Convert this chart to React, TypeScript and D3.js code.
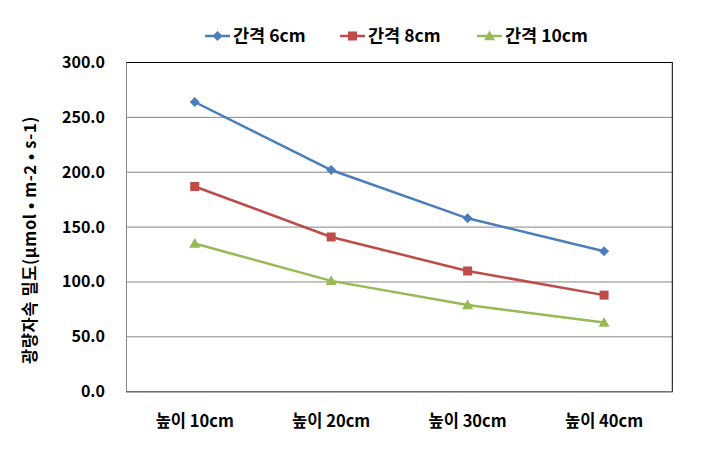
import React from "react";
import * as d3 from "d3";

const categories = ["높이 10cm", "높이 20cm", "높이 30cm", "높이 40cm"];
const seriesNames = ["간격 6cm", "간격 8cm", "간격 10cm"];
const values6 = [264, 202, 158, 128];
const values8 = [187, 141, 110, 88];
const values10 = [135, 101, 79, 63];
const yTicks = [0, 50, 100, 150, 200, 250, 300];
const colors = ["#4A7EBB", "#BE4B48", "#98B954"];
const markers = ["diamond", "square", "triangle"];

const W = 703;
const H = 451;
const m = { left: 126.5, right: 672.3, top: 62.5, bottom: 391.7 };
const FONT = "'Noto Sans CJK KR', 'Noto Sans', sans-serif";

function Marker({ type, x, y, color }: { type: string; x: number; y: number; color: string }) {
  if (type === "diamond") {
    const s = 5;
    return <path d={`M${x},${y - s}L${x + s},${y}L${x},${y + s}L${x - s},${y}Z`} fill={color} />;
  }
  if (type === "square") {
    const s = 4.5;
    return <rect x={x - s} y={y - s} width={2 * s} height={2 * s} fill={color} />;
  }
  const s = 5.5;
  return <path d={`M${x},${y - s}L${x + s},${y + s * 0.75}L${x - s},${y + s * 0.75}Z`} fill={color} />;
}

export default function App() {
  const series = [values6, values8, values10];
  const x = d3.scaleBand().domain(categories).range([m.left, m.right]);
  const y = d3.scaleLinear().domain([0, 300]).range([m.bottom, m.top]);
  const line = d3
    .line<number>()
    .x((_, i) => (x(categories[i]) as number) + x.bandwidth() / 2)
    .y((d) => y(d));
  const legendX = [205, 340, 477];

  return (
    <svg width={W} height={H} style={{ position: "absolute", left: 0, top: 0 }}>
      <rect x={0} y={0} width={W} height={H} fill="#fff" />
      {yTicks.map((t) => (
        <line key={t} x1={m.left} x2={m.right} y1={y(t)} y2={y(t)} stroke="#868686" strokeWidth={1} />
      ))}
      <rect x={m.left} y={m.top} width={m.right - m.left} height={m.bottom - m.top} fill="none" stroke="#000" strokeWidth={1} />
      <line x1={m.left} x2={m.left} y1={m.top} y2={m.bottom} stroke="#868686" strokeWidth={1} />
      <line x1={m.left} x2={m.right} y1={m.bottom} y2={m.bottom} stroke="#868686" strokeWidth={1} />
      {yTicks.map((t) => (
        <text key={t} x={105} y={y(t) + 5.5} textAnchor="end" fontFamily={FONT} fontWeight="bold" fontSize={16} fill="#000">
          {t.toFixed(1)}
        </text>
      ))}
      {categories.map((c) => (
        <text key={c} x={(x(c) as number) + x.bandwidth() / 2} y={427} textAnchor="middle" fontFamily={FONT} fontWeight="bold" fontSize={16.5} fill="#000">
          {c}
        </text>
      ))}
      <text
        transform={`translate(36,${240}) rotate(-90)`}
        textAnchor="middle"
        fontFamily={FONT}
        fontWeight="bold"
        fontSize={16.5}
        letterSpacing={0.6}
        fill="#000"
      >
        광량자속 밀도(μmol • m-2 • s-1)
      </text>
      {series.map((s, si) => (
        <g key={si}>
          <path d={line(s) || ""} fill="none" stroke={colors[si]} strokeWidth={2.5} />
          {s.map((v, i) => (
            <Marker key={i} type={markers[si]} x={(x(categories[i]) as number) + x.bandwidth() / 2} y={y(v)} color={colors[si]} />
          ))}
        </g>
      ))}
      {seriesNames.map((n, i) => (
        <g key={n}>
          <line x1={legendX[i]} x2={legendX[i] + 25} y1={36} y2={36} stroke={colors[i]} strokeWidth={2.5} />
          <Marker type={markers[i]} x={legendX[i] + 12.5} y={36} color={colors[i]} />
          <text x={legendX[i] + 28} y={42} fontFamily={FONT} fontWeight="bold" fontSize={17.5} fill="#000">
            {n}
          </text>
        </g>
      ))}
    </svg>
  );
}
